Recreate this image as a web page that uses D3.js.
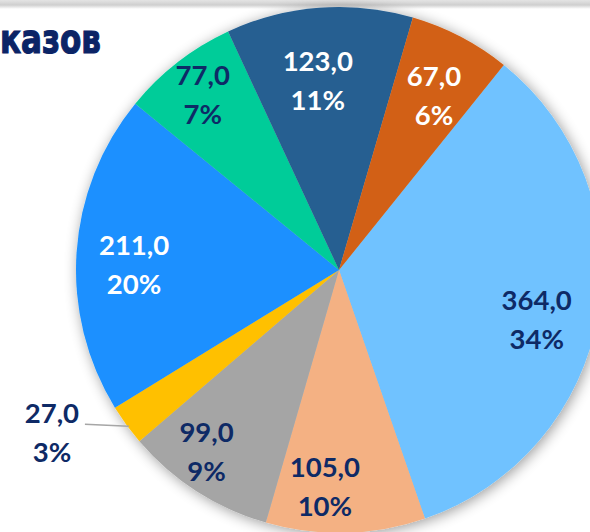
<!DOCTYPE html>
<html>
<head>
<meta charset="utf-8">
<script src="https://cdn.jsdelivr.net/npm/d3@7"></script>
<style>
  html, body { margin: 0; padding: 0; background: #fff; }
  svg { display: block; }
</style>
</head>
<body>
<div id="chart"></div>
<script>
// chart data
const categories = ['A', 'B', 'C', 'D', 'E', 'F', 'G', 'H'];
const values = [364, 105, 99, 27, 211, 77, 123, 67];
const percents = ['34%', '10%', '9%', '3%', '20%', '7%', '11%', '6%'];
const colors = ['#6fc2ff', '#f4b183', '#a5a5a5', '#ffc000', '#1a90ff', '#00cc99', '#255e91', '#d26014'];
const labelColors = ['#0e2a66', '#0e2a66', '#0e2a66', '#0e2a66', '#ffffff', '#0e2a66', '#ffffff', '#ffffff'];
const titleText = 'казов';

const width = 590, height = 532;
const cx = 339, cy = 270, radius = 263;
const firstAngle = 38.8 * Math.PI / 180;

const svg = d3.select('#chart').append('svg')
    .attr('width', width)
    .attr('height', height);

const defs = svg.append('defs');

const topGrad = defs.append('linearGradient')
    .attr('id', 'topband')
    .attr('x1', 0).attr('y1', 0).attr('x2', 0).attr('y2', 1);
topGrad.append('stop').attr('offset', 0).attr('stop-color', '#e4e4e4');
topGrad.append('stop').attr('offset', 0.55).attr('stop-color', '#cfcfcf');
topGrad.append('stop').attr('offset', 1).attr('stop-color', '#ffffff');

const shadow = defs.append('filter')
    .attr('id', 'shadow')
    .attr('x', '-20%').attr('y', '-20%')
    .attr('width', '140%').attr('height', '140%');
shadow.append('feGaussianBlur')
    .attr('in', 'SourceAlpha')
    .attr('stdDeviation', 7);
shadow.append('feOffset').attr('dx', 2).attr('dy', 2).attr('result', 'blur');
shadow.append('feComponentTransfer')
    .append('feFuncA').attr('type', 'linear').attr('slope', 0.4);
const merge = shadow.append('feMerge');
merge.append('feMergeNode');
merge.append('feMergeNode').attr('in', 'SourceGraphic');

// grey strip along the top edge
svg.append('rect')
    .attr('x', 0).attr('y', 0)
    .attr('width', width).attr('height', 9)
    .attr('fill', 'url(#topband)');

// title (cut off on the left in the original)
svg.append('text')
    .attr('x', 101)
    .attr('y', 53)
    .attr('text-anchor', 'end')
    .attr('font-family', '"DejaVu Sans", sans-serif')
    .attr('font-weight', 700)
    .attr('font-size', 40)
    .attr('fill', '#0b2466')
    .attr('stroke', '#0b2466')
    .attr('stroke-width', 1.2)
    .attr('textLength', 101)
    .attr('lengthAdjust', 'spacingAndGlyphs')
    .text(titleText);

const pie = d3.pie()
    .sort(null)
    .startAngle(firstAngle)
    .endAngle(firstAngle + 2 * Math.PI)
    .value(d => d);

const arcs = pie(values);

const arc = d3.arc()
    .innerRadius(0)
    .outerRadius(radius);

const g = svg.append('g')
    .attr('transform', `translate(${cx},${cy})`);

g.append('g')
    .attr('filter', 'url(#shadow)')
  .selectAll('path')
    .data(arcs)
  .enter().append('path')
    .attr('d', arc)
    .attr('fill', (d, i) => colors[i]);

// label placement: angle shift (deg) and radius, roughly like Excel's best fit
const labelAdjust = [
  { da: 4.4, r: 204 },
  { da: 5.2, r: 217 },
  { da: 3.3, r: 225 },
  null,
  { da: -2.3, r: 205 },
  { da: 0, r: 222 },
  { da: -2.1, r: 190 },
  { da: 1.1, r: 198 }
];

const fmt = v => d3.format('.1f')(v).replace('.', ',');

const labels = g.append('g')
    .attr('font-family', 'Lato, "Open Sans", sans-serif')
    .attr('font-weight', 700)
    .attr('font-size', 27.5)
    .attr('text-anchor', 'middle');

arcs.forEach((d, i) => {
  const mid = (d.startAngle + d.endAngle) / 2;
  let x, y;
  if (labelAdjust[i]) {
    const a = mid + labelAdjust[i].da * Math.PI / 180;
    x = Math.sin(a) * labelAdjust[i].r;
    y = -Math.cos(a) * labelAdjust[i].r;
  } else {
    // small slice: label outside with a leader line
    const edge = [Math.sin(mid) * (radius - 3), -Math.cos(mid) * (radius - 3)];
    x = edge[0] - 77;
    y = edge[1] + 10;
    g.append('path')
        .attr('d', d3.line()([[edge[0], edge[1] + 3], [x + 33, y - 9]]))
        .attr('stroke', '#a6a6a6')
        .attr('stroke-width', 1.5)
        .attr('fill', 'none');
  }
  const t = labels.append('text')
      .attr('fill', labelColors[i]);
  t.append('tspan')
      .attr('x', x)
      .attr('y', y - 10)
      .text(fmt(values[i]));
  t.append('tspan')
      .attr('x', x)
      .attr('y', y + 29)
      .text(percents[i]);
});
</script>
</body>
</html>
